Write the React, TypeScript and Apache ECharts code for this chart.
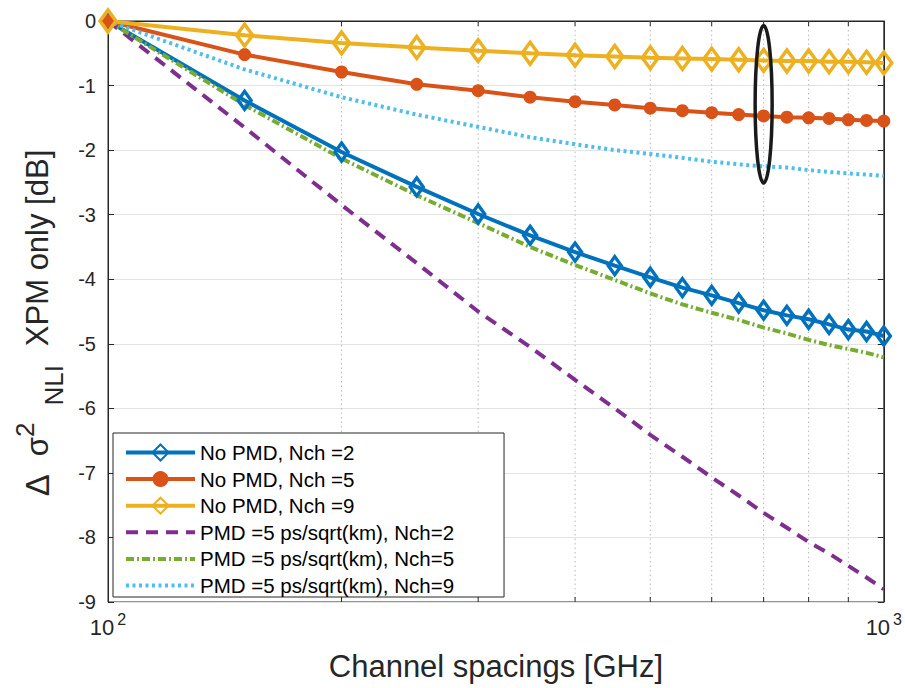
import React, { useEffect, useRef } from "react";
import * as echarts from "echarts";

const xValues = [100, 150, 200, 250, 300, 350, 400, 450, 500, 550, 600, 650, 700, 750, 800, 850, 900, 950, 1000];
const noPmd2 = [0, -1.23, -2.03, -2.57, -2.99, -3.32, -3.58, -3.79, -3.97, -4.13, -4.25, -4.37, -4.48, -4.56, -4.62, -4.70, -4.78, -4.81, -4.88];
const noPmd5 = [0, -0.52, -0.79, -0.98, -1.08, -1.18, -1.25, -1.30, -1.35, -1.39, -1.42, -1.45, -1.47, -1.49, -1.50, -1.51, -1.53, -1.54, -1.55];
const noPmd9 = [0, -0.22, -0.34, -0.41, -0.46, -0.50, -0.53, -0.55, -0.57, -0.58, -0.59, -0.60, -0.61, -0.62, -0.62, -0.63, -0.63, -0.64, -0.65];
const pmd2 = [0, -1.65, -2.85, -3.75, -4.50, -5.05, -5.56, -6.00, -6.41, -6.75, -7.07, -7.35, -7.62, -7.85, -8.07, -8.25, -8.44, -8.62, -8.80];
const pmd5 = [0, -1.30, -2.13, -2.70, -3.13, -3.50, -3.78, -4.01, -4.22, -4.39, -4.52, -4.63, -4.75, -4.84, -4.94, -5.02, -5.08, -5.14, -5.21];
const pmd9 = [0, -0.75, -1.18, -1.45, -1.64, -1.80, -1.91, -2.00, -2.06, -2.12, -2.18, -2.22, -2.25, -2.27, -2.31, -2.34, -2.36, -2.38, -2.40];

const seriesNames = [
  "No PMD, Nch =2",
  "No PMD, Nch =5",
  "No PMD, Nch =9",
  "PMD =5 ps/sqrt(km), Nch=2",
  "PMD =5 ps/sqrt(km), Nch=5",
  "PMD =5 ps/sqrt(km), Nch=9",
];
const colors = ["#0072BD", "#D95319", "#EDB120", "#7E2F8E", "#77AC30", "#4DBEEE"];

const minorTicks = [200, 300, 400, 500, 600, 700, 800, 900];
const yTicks = { min: -9, max: 0, interval: 1 };

const ellipseX = 700;
const ellipseTop = -0.07;
const ellipseBottom = -2.51;

const FONT = "'Liberation Sans', Arial, Helvetica, sans-serif";

const pairs = (ys: number[]) => xValues.map((x, i) => [x, ys[i]]);

export default function App() {
  const ref = useRef<HTMLDivElement>(null);
  useEffect(() => {
    document.body.style.margin = "0";
    if (!ref.current) return;
    const chart = echarts.init(ref.current, undefined, { renderer: "svg" });
    const hollow = (c: string) => ({ color: "rgba(255,255,255,0)", borderColor: c, borderWidth: 3.5 });
    const LW = 4;
    chart.setOption({
      animation: false,
      backgroundColor: "#ffffff",
      grid: { left: 108, right: 20, top: 21, bottom: 86, show: true, borderColor: "#262626", borderWidth: 1, backgroundColor: "transparent" },
      legend: {
        orient: "vertical",
        left: 113,
        top: 433,
        data: seriesNames.map((n, i) =>
          i < 3 ? { name: n } : { name: n, itemStyle: { opacity: 0, color: "rgba(0,0,0,0)", borderWidth: 0 } }
        ),
        itemWidth: 69,
        itemHeight: 20,
        itemGap: 5.6,
        padding: [9, 50, 1, 11],
        backgroundColor: "#ffffff",
        borderColor: "#262626",
        borderWidth: 1,
        borderRadius: 0,
        lineStyle: { width: LW },
        textStyle: { fontFamily: FONT, fontSize: 20.5, color: "#000", lineHeight: 20 },
      },
      xAxis: {
        type: "log",
        logBase: 10,
        min: 100,
        max: 1000,
        name: "Channel spacings [GHz]",
        nameLocation: "middle",
        nameGap: 49,
        nameTextStyle: { fontFamily: FONT, fontSize: 31, color: "#262626" },
        axisLine: { show: true, lineStyle: { color: "#262626", width: 1 } },
        axisTick: { show: false },
        splitLine: { show: false },
        axisLabel: {
          margin: 14,
          showMinLabel: true,
          showMaxLabel: true,
          formatter: (v: number) => `{b|10}{e|${Math.round(Math.log10(v))}}`,
          rich: {
            b: { fontFamily: FONT, fontSize: 22, color: "#262626", lineHeight: 22, verticalAlign: "middle" },
            e: { fontFamily: FONT, fontSize: 16, color: "#262626", lineHeight: 16, verticalAlign: "middle", padding: [0, 0, 16, 3] },
          },
        },
      },
      yAxis: [
        {
          type: "value",
          min: yTicks.min,
          max: yTicks.max,
          interval: yTicks.interval,
          name: "{d|Δ}{s|σ}{sup|2}{sub|NLI}{m|XPM only [dB]}",
          nameLocation: "middle",
          nameGap: 42,
          nameTextStyle: {
            fontFamily: FONT,
            color: "#262626",
            padding: [0, 23, 0, 0],
            rich: {
              d: { fontFamily: FONT, fontSize: 33, color: "#262626", lineHeight: 40, verticalAlign: "middle", padding: [0, 18, 0, 0] },
              s: { fontFamily: FONT, fontSize: 31, color: "#262626", lineHeight: 40, verticalAlign: "middle" },
              sup: { fontFamily: FONT, fontSize: 26, color: "#262626", lineHeight: 26, verticalAlign: "middle", padding: [0, 17, 26, 0] },
              sub: { fontFamily: FONT, fontSize: 26, color: "#262626", lineHeight: 26, verticalAlign: "middle", padding: [33, 19, 0, 0] },
              m: { fontFamily: FONT, fontSize: 31, color: "#262626", lineHeight: 40, verticalAlign: "middle" },
            },
          },
          axisLine: { show: true, lineStyle: { color: "#262626", width: 1 } },
          axisTick: { show: true, inside: true, length: 6, lineStyle: { color: "#262626" } },
          axisLabel: { fontFamily: FONT, fontSize: 20, color: "#262626", margin: 12 },
          splitLine: { show: true, lineStyle: { color: "#e3e3e3", width: 1 } },
        },
        {
          type: "value",
          position: "right",
          min: yTicks.min,
          max: yTicks.max,
          interval: yTicks.interval,
          axisLine: { show: true, lineStyle: { color: "#262626", width: 1 } },
          axisTick: { show: true, inside: true, length: 6, lineStyle: { color: "#262626" } },
          axisLabel: { show: false },
          splitLine: { show: false },
        },
      ],
      series: [
        {
          type: "custom",
          name: "minor",
          silent: true,
          z: 1,
          clip: false,
          data: minorTicks.map((v) => [v, 0]),
          encode: { x: 0, y: 1 },
          renderItem: (params: any, api: any) => {
            const cs = params.coordSys;
            const x = api.coord([api.value(0), 0])[0];
            const top = cs.y;
            const bot = cs.y + cs.height;
            return {
              type: "group",
              children: [
                { type: "line", shape: { x1: x, y1: top, x2: x, y2: bot }, style: { stroke: "#b8b8b8", lineWidth: 1, lineDash: [1.5, 3] } },
                { type: "line", shape: { x1: x, y1: bot, x2: x, y2: bot - 5 }, style: { stroke: "#262626", lineWidth: 1 } },
                { type: "line", shape: { x1: x, y1: top, x2: x, y2: top + 5 }, style: { stroke: "#262626", lineWidth: 1 } },
              ],
            };
          },
        },
        {
          name: seriesNames[0], type: "line", data: pairs(noPmd2), clip: false,
          symbol: "diamond", symbolSize: [13, 18], itemStyle: hollow(colors[0]),
          lineStyle: { color: colors[0], width: LW }, color: colors[0],
        },
        {
          name: seriesNames[1], type: "line", data: pairs(noPmd5), clip: false,
          symbol: "circle", symbolSize: 13, itemStyle: { color: colors[1], borderColor: colors[1], borderWidth: 0 },
          lineStyle: { color: colors[1], width: LW }, color: colors[1],
        },
        {
          name: seriesNames[2], type: "line", data: pairs(noPmd9), clip: false,
          symbol: "diamond", symbolSize: [16, 22], itemStyle: hollow(colors[2]),
          lineStyle: { color: colors[2], width: LW }, color: colors[2],
        },
        {
          name: seriesNames[3], type: "line", data: pairs(pmd2), clip: false, symbol: "none",
          lineStyle: { color: colors[3], width: LW, type: [12, 8] }, itemStyle: { color: colors[3] }, color: colors[3],
        },
        {
          name: seriesNames[4], type: "line", data: pairs(pmd5), clip: false, symbol: "none",
          lineStyle: { color: colors[4], width: LW, type: [8, 3, 2, 3] }, itemStyle: { color: colors[4] }, color: colors[4],
        },
        {
          name: seriesNames[5], type: "line", data: pairs(pmd9), clip: false, symbol: "none",
          lineStyle: { color: colors[5], width: LW, type: [3, 3.5] }, itemStyle: { color: colors[5] }, color: colors[5],
        },
      ],
    });
    const t = chart.convertToPixel({ xAxisIndex: 0, yAxisIndex: 0 }, [ellipseX, ellipseTop]) as number[];
    const b = chart.convertToPixel({ xAxisIndex: 0, yAxisIndex: 0 }, [ellipseX, ellipseBottom]) as number[];
    chart.setOption({
      graphic: [
        {
          type: "ellipse",
          z: 100,
          shape: { cx: t[0], cy: (t[1] + b[1]) / 2, rx: 8.5, ry: (b[1] - t[1]) / 2 },
          style: { fill: "none", stroke: "#1a1a1a", lineWidth: 3.5 },
        },
      ],
    });
    return () => chart.dispose();
  }, []);
  return <div ref={ref} style={{ width: 905, height: 688 }} />;
}
